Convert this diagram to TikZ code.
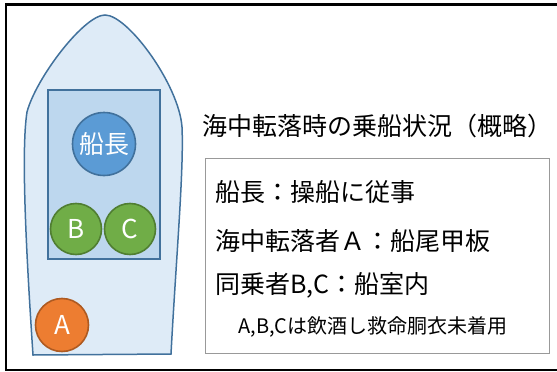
\documentclass[tikz,border=0pt]{standalone}
\usepackage{fontspec}
\setmainfont{Noto Sans CJK JP}
\definecolor{hullfill}{HTML}{DEEBF7}
\definecolor{cabinfill}{HTML}{BDD7EE}
\definecolor{edgeblue}{HTML}{41719C}
\definecolor{capfill}{HTML}{5B9BD5}
\definecolor{crewfill}{HTML}{70AD47}
\definecolor{crewedge}{HTML}{507E32}
\definecolor{mobfill}{HTML}{ED7D31}
\definecolor{mobedge}{HTML}{AE5A21}
\tikzset{
    person/.style={circle, line width=1.6pt, text=white, inner sep=0pt},
}

\begin{document}
\begin{tikzpicture}[x=1pt,y=-1pt]
\useasboundingbox (0,0) rectangle (557,372);
\draw[line width=2.6pt] (557,4.5) -- (6,4.5) -- (6,370) -- (557,370);

\draw[edgeblue,fill=hullfill,line width=1.5pt] (33,355) -- (171,354)
.. controls (176,260) and (184,170) .. (182,127)
.. controls (179,85) and (128,15) .. (105,15)
.. controls (84,15) and (36,78) .. (27,112)
.. controls (21,150) and (26,250) .. (33,355) -- cycle;
\draw[edgeblue,fill=cabinfill,line width=1.5pt] (48,90) rectangle (160,259);

\node[person, draw=edgeblue, fill=capfill, minimum size=63pt, font=\fontsize{25}{26}\selectfont] (cap) at (104,144) {船長};
\node[person, draw=crewedge, fill=crewfill, minimum size=51pt, font=\fontsize{26}{26}\selectfont] (b) at (76,229) {B};
\node[person, draw=crewedge, fill=crewfill, minimum size=51pt, font=\fontsize{26}{26}\selectfont] (c) at (130,229) {C};
\node[person, draw=mobedge, fill=mobfill, minimum size=53pt, font=\fontsize{26}{26}\selectfont] (a) at (62,325) {A};

\node[anchor=west, font=\fontsize{25}{28}\selectfont] (title) at (199,126) {海中転落時の乗船状況（概略）};
\draw[gray!80,line width=1pt] (205,158) rectangle (549,353);
\node[anchor=west, font=\fontsize{25}{28}\selectfont] (cap text) at (212,192) {船長：操船に従事};
\node[anchor=west, font=\fontsize{25}{28}\selectfont] (a text) at (212,241) {海中転落者Ａ：船尾甲板};
\node[anchor=west, font=\fontsize{25}{28}\selectfont] (bc text) at (212,285) {同乗者B,C：船室内};
\node[font=\fontsize{20}{22}\selectfont] (note) at (373,327) {A,B,Cは飲酒し救命胴衣未着用};
\end{tikzpicture}
\end{document}
